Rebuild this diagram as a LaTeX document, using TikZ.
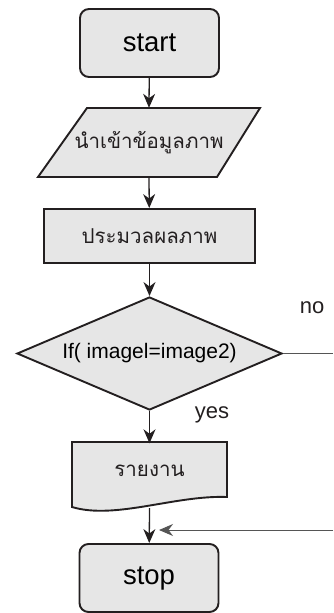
\documentclass[tikz,border=0pt]{standalone}
\usepackage{fontspec}
\setmainfont{Liberation Sans}
\newfontfamily\thaifont[Script=Thai]{Loma}
\usetikzlibrary{arrows.meta,shapes.geometric}
\definecolor{boxfill}{HTML}{E6E6E6}
\definecolor{ink}{HTML}{231F20}
\definecolor{retline}{HTML}{555555}
\tikzset{
  shapeline/.style={draw=ink, line width=1.9pt, fill=boxfill},
  term/.style={shapeline, rounded corners=9pt, minimum width=139pt, minimum height=68pt, inner sep=0pt, font=\fontsize{27.5}{30}\selectfont},
  procbox/.style={shapeline, minimum width=211pt, minimum height=54pt, inner sep=0pt},
  decbox/.style={shapeline, diamond, shape aspect=2.35, minimum width=265pt, minimum height=113pt, inner sep=0pt, font=\fontsize{21}{24}\selectfont},
  thaitext/.style={font=\thaifont\fontsize{20.5}{24}\selectfont, text=ink},
  tip/.style={-{Stealth[length=14pt,width=12pt,inset=4.5pt]}},
  flow/.style={draw=ink, line width=1.3pt, tip},
  backflow/.style={draw=retline, line width=1pt},
  lbl/.style={font=\fontsize{22}{24}\selectfont, text=ink, inner sep=0pt}
}
\begin{document}
\begin{tikzpicture}[x=1pt,y=-1pt]
\useasboundingbox (0,0) rectangle (333,613);
% start
\node[term] (start) at (149.5,43) {start};
% input parallelogram
\draw[shapeline] (87,108) -- (260,108) -- (217,177) -- (38,177) -- cycle;
\node[thaitext, minimum width=179pt, minimum height=69pt, inner sep=0pt] (in) at (149,142.5) {นำเข้าข้อมูลภาพ};
% process
\node[procbox, thaitext] (proc) at (149.5,236) {ประมวลผลภาพ};
% decision
\node[decbox] (dec) at (149.5,353.5) {If( imagel=image2)};
% document
\draw[shapeline] (72,442) -- (227,442) -- (227,497) .. controls (175,495) and (115,520) .. (72,507) -- cycle;
\node[thaitext, minimum width=155pt, minimum height=55pt, inner sep=0pt] (doc) at (149.5,471) {รายงาน};
\coordinate (docb) at (149.5,508);
% stop
\node[term] (stop) at (149,578) {stop};
% connectors
\draw[flow] (start) -- (in.north);
\draw[flow] (in.south) -- (proc);
\draw[flow] (proc) -- (dec.north);
\draw[flow] (dec.south) -- (doc.north);
\draw[flow] (docb) -- (stop);
\coordinate (noend) at (333,353.5);
\coordinate (retstart) at (333,530);
\coordinate (retend) at (159,530);
\draw[backflow] (dec.east) -- (noend);
\draw[backflow, tip] (retstart) -- (retend);
% labels
\node[lbl] (nolbl) at (312,308) {no};
\node[lbl] (yeslbl) at (212,415) {yes};
\end{tikzpicture}
\end{document}
